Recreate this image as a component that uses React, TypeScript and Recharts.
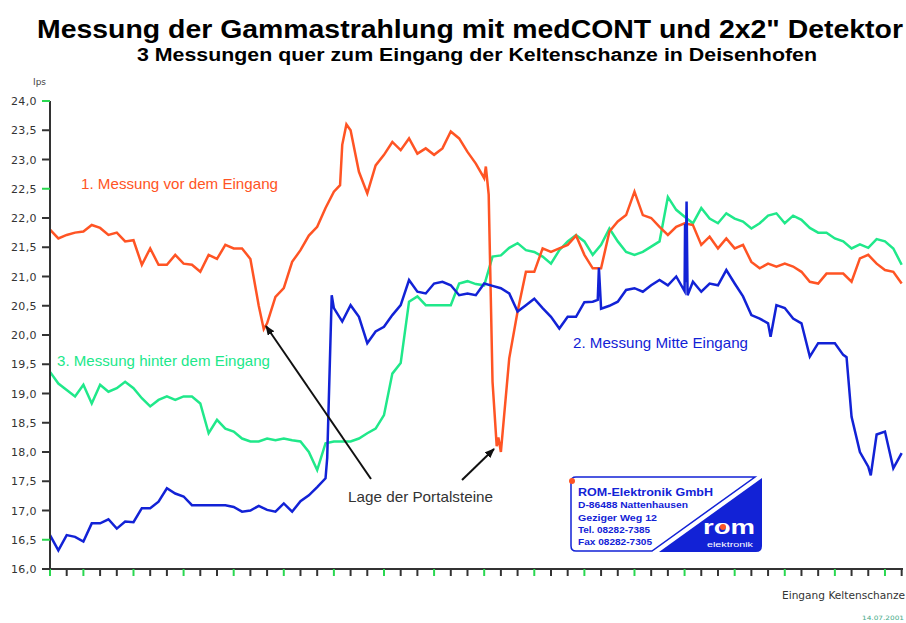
import React from 'react';
import { LineChart, Line, XAxis, YAxis } from 'recharts';

// measurement positions along the transect (half tick steps)
const positions = Array.from({ length: 103 }, (_, i) => i / 2);

const orange = [
  21.8, 21.65, 21.71, 21.75, 21.77, 21.88, 21.83, 21.71, 21.75, 21.6,
  21.62, 21.2, 21.48, 21.2, 21.2, 21.37, 21.22, 21.2, 21.08, 21.37,
  21.3, 21.54, 21.48, 21.48, 21.3, 20.5, 20.2, 20.65, 20.8, 21.25,
  21.45, 21.7, 21.85, 22.17, 22.45, 23.25, 23.5, 22.79, 22.42, 22.9,
  23.08, 23.3, 23.16, 23.36, 23.1, 23.19, 23.08, 23.19, 23.48, 23.36,
  23.13, 22.93, 22.68, 19.2, 18.0, 19.6, 20.4, 21.08, 21.08, 21.48,
  21.42, 21.48, 21.54, 21.7, 21.37, 21.14, 21.14, 21.77, 21.94, 22.05,
  22.45, 22.05, 22.0, 21.85, 21.71, 21.85, 21.91, 21.88, 21.54, 21.68,
  21.48, 21.65, 21.48, 21.54, 21.25, 21.14, 21.22, 21.17, 21.22, 21.17,
  21.08, 20.91, 20.88, 21.05, 21.05, 21.05, 20.91, 21.31, 21.37, 21.22,
  21.11, 21.08, 20.88,
];

const blue = [
  16.58, 16.32, 16.58, 16.55, 16.47, 16.78, 16.78, 16.85, 16.69, 16.81,
  16.8, 17.04, 17.04, 17.15, 17.38, 17.29, 17.24, 17.09, 17.09, 17.09,
  17.09, 17.09, 17.06, 16.98, 17.0, 17.08, 17.01, 16.98, 17.12, 16.98,
  17.16, 17.26, 17.4, 17.55, 20.46, 20.23, 20.51, 20.31, 19.86, 20.06,
  20.14, 20.34, 20.51, 20.94, 20.74, 20.71, 20.88, 20.91, 20.85, 20.68,
  20.71, 20.68, 20.88, 20.84, 20.8, 20.71, 20.4, 20.51, 20.62, 20.46,
  20.31, 20.11, 20.31, 20.31, 20.56, 20.57, 20.45, 20.5, 20.57, 20.77,
  20.8, 20.74, 20.85, 20.94, 20.85, 21.0, 20.75, 20.91, 20.74, 20.88,
  20.85, 21.11, 20.88, 20.66, 20.34, 20.28, 20.2, 20.51, 20.46, 20.28,
  20.2, 19.63, 19.86, 19.86, 19.86, 19.66, 18.6, 18.0, 17.75, 18.3,
  18.35, 17.72, 17.98,
];

const green = [
  19.37, 19.17, 19.06, 18.95, 19.15, 18.83, 19.15, 19.03, 19.09, 19.2,
  19.09, 18.92, 18.78, 18.89, 18.95, 18.89, 18.95, 18.95, 18.83, 18.32,
  18.55, 18.4, 18.35, 18.23, 18.18, 18.18, 18.23, 18.2, 18.23, 18.2,
  18.18, 18.0, 17.69, 18.15, 18.18, 18.18, 18.18, 18.23, 18.32, 18.4,
  18.63, 19.34, 19.52, 20.57, 20.66, 20.51, 20.51, 20.51, 20.51, 20.88,
  20.92, 20.87, 20.85, 21.34, 21.36, 21.49, 21.57, 21.45, 21.42, 21.34,
  21.22, 21.45, 21.6, 21.71, 21.6, 21.37, 21.54, 21.82, 21.6, 21.42,
  21.37, 21.42, 21.51, 21.6, 22.36, 22.14, 22.02, 21.91, 22.17, 21.99,
  21.91, 22.08, 21.99, 21.94, 21.82, 21.91, 22.04, 22.08, 21.91, 22.04,
  21.97, 21.83, 21.75, 21.75, 21.65, 21.6, 21.48, 21.55, 21.49, 21.64,
  21.6, 21.48, 21.2,
];

// extra readings where the curves jump sharply
const orangeDetail = [
  [12.8, 20.1], [17.37, 22.56], [17.75, 23.6],
  [26.1, 22.88], [26.27, 22.4], [26.75, 18.1], [26.85, 18.25],
];
const blueDetail = [
  [16.6, 17.9], [16.87, 20.68], [32.8, 20.6], [32.87, 21.15],
  [38.03, 21.9], [38.06, 20.9], [38.12, 22.28], [38.18, 20.68],
  [43.15, 19.97], [47.7, 19.62], [49.15, 17.6],
];

const yTicks = [16, 16.5, 17, 17.5, 18, 18.5, 19, 19.5, 20, 20.5, 21, 21.5, 22, 22.5, 23, 23.5, 24];
const xTicks = Array.from({ length: 52 }, (_, i) => i);
const greenYTicks = [24, 22.5, 16.5];

const ORANGE = '#ff5424';
const BLUE = '#1222d6';
const GREEN = '#20e88a';
const TICK_GREEN = '#2ad850';

const rows: any[] = positions.map((pos, i) => ({ pos, orange: orange[i], blue: blue[i], green: green[i] }));
orangeDetail.forEach(([pos, v]) => rows.push({ pos, orange: v }));
blueDetail.forEach(([pos, v]) => rows.push({ pos, blue: v }));
rows.sort((a, b) => a.pos - b.pos);

const XTick = (props: any) => {
  const { x, y, payload } = props;
  const k = payload.value;
  const col = k === 0 || k % 3 === 2 ? TICK_GREEN : '#333';
  return <line x1={x} x2={x} y1={y} y2={y + 7} stroke={col} strokeWidth={2} />;
};

const YTick = (props: any) => {
  const { x, y, payload } = props;
  const v = payload.value;
  const col = greenYTicks.includes(v) ? TICK_GREEN : '#333';
  return (
    <g>
      <line x1={x - 8} x2={x} y1={y} y2={y} stroke={col} strokeWidth={2} />
      <text x={x - 13} y={y + 4} textAnchor="end" fontSize={11} fill="#333" fontFamily="DejaVu Sans" letterSpacing={0.4}>
        {v.toFixed(1).replace('.', ',')}
      </text>
    </g>
  );
};

const sans = 'Liberation Sans, Arial, sans-serif';

const Overlay = () => (
  <svg width={906} height={623} style={{ position: 'absolute', left: 0, top: 0, pointerEvents: 'none' }}>
    <defs>
      <marker id="arr" markerWidth="10" markerHeight="8" refX="9" refY="4" orient="auto" markerUnits="userSpaceOnUse">
        <path d="M0,0 L10,4 L0,8 z" fill="#111" />
      </marker>
    </defs>
    <text x={37} y={38} fontFamily={sans} fontWeight="bold" fontSize={26} fill="#000" textLength={866} lengthAdjust="spacingAndGlyphs">
      Messung der Gammastrahlung mit medCONT und 2x2" Detektor
    </text>
    <text x={137} y={61} fontFamily={sans} fontWeight="bold" fontSize={18} fill="#000" textLength={680} lengthAdjust="spacingAndGlyphs">
      3 Messungen quer zum Eingang der Keltenschanze in Deisenhofen
    </text>
    <text x={33} y={85} fontFamily="DejaVu Sans" fontSize={9} fill="#444">Ips</text>

    <text x={81} y={189} fontFamily={sans} fontSize={15} fill={ORANGE} textLength={197} lengthAdjust="spacingAndGlyphs">1. Messung vor dem Eingang</text>
    <text x={57} y={366} fontFamily={sans} fontSize={15} fill={GREEN} textLength={213} lengthAdjust="spacingAndGlyphs">3. Messung hinter dem Eingang</text>
    <text x={573} y={348} fontFamily={sans} fontSize={15} fill={BLUE} textLength={175} lengthAdjust="spacingAndGlyphs">2. Messung Mitte Eingang</text>
    <text x={348} y={502} fontFamily={sans} fontSize={15} fill="#333" textLength={145} lengthAdjust="spacingAndGlyphs">Lage der Portalsteine</text>

    <line x1={371} y1={479} x2={266} y2={326} stroke="#111" strokeWidth={2} markerEnd="url(#arr)" />
    <line x1={462} y1={480} x2={494} y2={449} stroke="#111" strokeWidth={2} markerEnd="url(#arr)" />

    <path d="M576 477 H755 L652 551 H576 Q571 551 571 546 V482 Q571 477 576 477 Z" fill="#fff" stroke={BLUE} strokeWidth={1.5} />
    <path d="M762 478 V546 Q762 552 756 552 H659 Z" fill={BLUE} />
    <circle cx={572} cy={481} r={3} fill={ORANGE} />
    <text x={578} y={496} fontFamily={sans} fontWeight="bold" fontSize={11} fill={BLUE} textLength={135} lengthAdjust="spacingAndGlyphs">ROM-Elektronik GmbH</text>
    <text x={578} y={508} fontFamily={sans} fontWeight="bold" fontSize={9} fill={BLUE} textLength={110} lengthAdjust="spacingAndGlyphs">D-86488 Nattenhausen</text>
    <text x={578} y={520.5} fontFamily={sans} fontWeight="bold" fontSize={9} fill={BLUE} textLength={79} lengthAdjust="spacingAndGlyphs">Geziger Weg 12</text>
    <text x={578} y={533} fontFamily={sans} fontWeight="bold" fontSize={9} fill={BLUE} textLength={72} lengthAdjust="spacingAndGlyphs">Tel. 08282-7385</text>
    <text x={578} y={545} fontFamily={sans} fontWeight="bold" fontSize={9} fill={BLUE} textLength={74} lengthAdjust="spacingAndGlyphs">Fax 08282-7305</text>
    <text x={703} y={534} fontFamily={sans} fontWeight="bold" fontSize={21} fill="#fff" textLength={52} lengthAdjust="spacingAndGlyphs">rom</text>
    <circle cx={723} cy={527} r={3} fill={ORANGE} />
    <text x={707} y={547} fontFamily={sans} fontSize={7} fill="#fff" textLength={46} lengthAdjust="spacingAndGlyphs">elektronik</text>

    <text x={782} y={599} fontFamily="DejaVu Sans" fontSize={10} fill="#333" textLength={123} lengthAdjust="spacingAndGlyphs">Eingang Keltenschanze</text>
    <text x={862} y={620} fontFamily="DejaVu Sans" fontSize={6} fill="#4a8" textLength={42} lengthAdjust="spacingAndGlyphs">14.07.2001</text>
  </svg>
);

const App: React.FC = () => (
  <div style={{ position: 'relative', width: 906, height: 623, background: '#fff' }}>
    <style>{'body{margin:0;}'}</style>
    <LineChart width={906} height={623} data={rows} margin={{ top: 101, right: 3, bottom: 34, left: 0 }}>
      <XAxis
        dataKey="pos"
        type="number"
        domain={[0, 51.08]}
        ticks={xTicks}
        interval={0}
        height={20}
        tickSize={0}
        tickMargin={0}
        tickLine={false}
        tick={<XTick />}
        axisLine={{ stroke: '#333', strokeWidth: 2 }}
      />
      <XAxis
        xAxisId="top"
        orientation="top"
        dataKey="pos"
        type="number"
        domain={[0, 51.08]}
        height={0}
        tick={false}
        tickLine={false}
        axisLine={{ stroke: '#555', strokeWidth: 2 }}
      />
      <YAxis
        domain={[16, 24]}
        ticks={yTicks}
        interval={0}
        width={50}
        tickSize={0}
        tickMargin={0}
        tickLine={false}
        tick={<YTick />}
        axisLine={{ stroke: '#333', strokeWidth: 2 }}
      />
      <YAxis
        yAxisId="right"
        orientation="right"
        domain={[16, 24]}
        width={0}
        tick={false}
        tickLine={false}
        axisLine={{ stroke: TICK_GREEN, strokeWidth: 2 }}
      />
      <Line dataKey="green" stroke={GREEN} strokeWidth={2.5} dot={false} connectNulls isAnimationActive={false} type="linear" />
      <Line dataKey="orange" stroke={ORANGE} strokeWidth={2.5} dot={false} connectNulls isAnimationActive={false} type="linear" />
      <Line dataKey="blue" stroke={BLUE} strokeWidth={2.5} dot={false} connectNulls isAnimationActive={false} type="linear" />
    </LineChart>
    <Overlay />
  </div>
);

export default App;
